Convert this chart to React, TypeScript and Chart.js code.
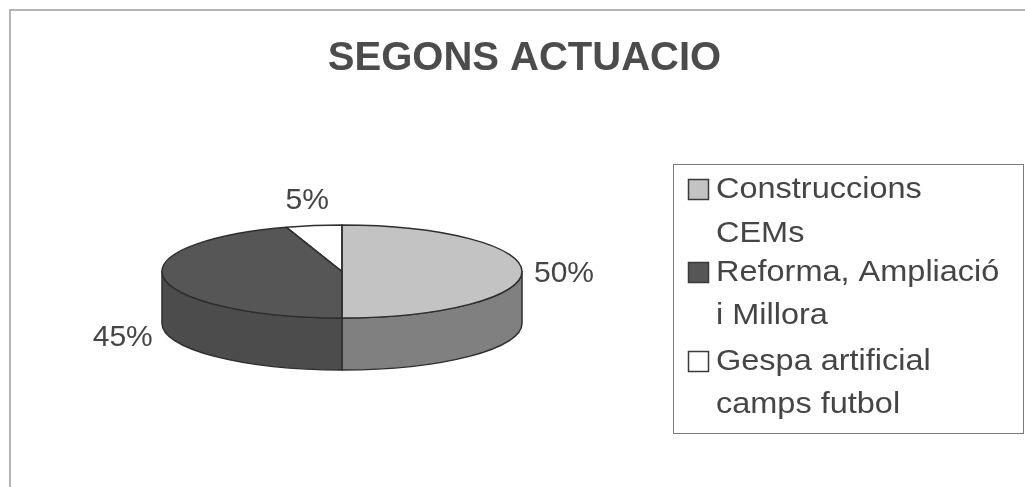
import React, { useEffect, useRef } from "react";
import { Chart, registerables } from "chart.js";

Chart.register(...registerables);

// ---- data ----
const TITLE = "SEGONS ACTUACIO";
const categories = [
  "Construccions CEMs",
  "Reforma, Ampliació i Millora",
  "Gespa artificial camps futbol",
];
const legendLines = [
  ["Construccions", "CEMs"],
  ["Reforma, Ampliació", "i Millora"],
  ["Gespa artificial", "camps futbol"],
];
const values = [50, 45, 5];

// ---- style ----
const topColors = ["#c3c3c3", "#565656", "#ffffff"];
const sideColors = ["#808080", "#4c4c4c", "#dcdcdc"];
const OUTLINE = "#2e2e2e";
const TEXT = "#454545";
const FONT = '"Liberation Sans", Arial, sans-serif';
const TILT = 46.5 / 180;
const DEPTH = 52;

const W = 1025;
const H = 487;

let tiltSaved = false;

const pie3d = {
  id: "pie3d",
  beforeDatasetsDraw(chart: any) {
    const ctx = chart.ctx as CanvasRenderingContext2D;
    const arcs = chart.getDatasetMeta(0).data;
    tiltSaved = false;
    if (!arcs.length) return;
    const p = arcs[0].getProps(["x", "y", "outerRadius"], true);
    const cx = p.x, cy = p.y, rx = p.outerRadius, ry = rx * TILT;
    // sides (front half only)
    ctx.save();
    ctx.lineWidth = 1.5;
    ctx.strokeStyle = OUTLINE;
    ctx.lineJoin = "round";
    arcs.forEach((arc: any, i: number) => {
      const { startAngle, endAngle } = arc.getProps(["startAngle", "endAngle"], true);
      for (let n = -1; n <= 1; n++) {
        const lo = Math.max(startAngle, n * 2 * Math.PI);
        const hi = Math.min(endAngle, n * 2 * Math.PI + Math.PI);
        if (hi - lo > 1e-6) {
          ctx.beginPath();
          ctx.ellipse(cx, cy, rx, ry, 0, lo, hi, false);
          ctx.ellipse(cx, cy + DEPTH, rx, ry, 0, hi, lo, true);
          ctx.closePath();
          ctx.fillStyle = sideColors[i];
          ctx.fill();
          ctx.stroke();
        }
      }
    });
    ctx.restore();
    // squash the top face drawn by Chart.js
    ctx.save();
    ctx.translate(cx, cy);
    ctx.scale(1, TILT);
    ctx.translate(-cx, -cy);
    tiltSaved = true;
  },
  afterDatasetsDraw(chart: any) {
    const ctx = chart.ctx as CanvasRenderingContext2D;
    if (!tiltSaved) return;
    ctx.restore();
    tiltSaved = false;
    const arcs = chart.getDatasetMeta(0).data;
    const p = arcs[0].getProps(["x", "y", "outerRadius"], true);
    const cx = p.x, cy = p.y, rx = p.outerRadius, ry = rx * TILT;
    ctx.save();
    ctx.lineWidth = 1.5;
    ctx.strokeStyle = OUTLINE;
    ctx.lineJoin = "round";
    arcs.forEach((arc: any) => {
      const { startAngle, endAngle } = arc.getProps(["startAngle", "endAngle"], true);
      ctx.beginPath();
      ctx.moveTo(cx, cy);
      ctx.ellipse(cx, cy, rx, ry, 0, startAngle, endAngle, false);
      ctx.closePath();
      ctx.stroke();
    });
    // data labels
    const total = values.reduce((a, b) => a + b, 0);
    ctx.fillStyle = TEXT;
    ctx.font = `30px ${FONT}`;
    ctx.textAlign = "center";
    ctx.textBaseline = "alphabetic";
    arcs.forEach((arc: any, i: number) => {
      const { startAngle, endAngle } = arc.getProps(["startAngle", "endAngle"], true);
      const m = (startAngle + endAngle) / 2;
      const s = Math.sin(m);
      const lx = cx + (rx + 42) * Math.cos(m);
      const ly = cy + (ry + 28) * s + (s > 0.05 ? DEPTH : 0);
      const txt = Math.round((values[i] / total) * 100) + "%";
      ctx.fillText(txt, lx, ly + 0.358 * 30);
    });
    ctx.restore();
  },
  afterDraw(chart: any) {
    const ctx = chart.ctx as CanvasRenderingContext2D;
    ctx.save();
    // outer chart border
    ctx.strokeStyle = "#b4b4b4";
    ctx.lineWidth = 2;
    ctx.strokeRect(10, 10, W + 20, H + 20);
    // title
    ctx.fillStyle = "#4c4c4c";
    ctx.font = `bold 40px ${FONT}`;
    ctx.textAlign = "center";
    ctx.textBaseline = "alphabetic";
    ctx.fillText(TITLE, 524.5, 70);
    // legend
    ctx.strokeStyle = "#7a7a7a";
    ctx.lineWidth = 1;
    ctx.strokeRect(673.5, 164.5, 350, 269);
    const baselines = [[198, 242], [281, 324], [370, 413]];
    ctx.font = `29px ${FONT}`;
    ctx.textAlign = "left";
    categories.forEach((_, i) => {
      const b = baselines[i];
      ctx.fillStyle = topColors[i];
      ctx.fillRect(688.5, b[0] - 18.5, 20, 20);
      ctx.strokeStyle = "#3a3a3a";
      ctx.lineWidth = 1.5;
      ctx.strokeRect(688.5, b[0] - 18.5, 20, 20);
      ctx.fillStyle = TEXT;
      legendLines[i].forEach((line, j) => {
        ctx.save();
        ctx.translate(716, b[j]);
        ctx.scale(1.12, 1);
        ctx.fillText(line, 0, 0);
        ctx.restore();
      });
    });
    ctx.restore();
  },
};

export default function App() {
  const ref = useRef<HTMLCanvasElement | null>(null);
  useEffect(() => {
    if (!ref.current) return;
    const cx = 342;
    const cy = 271.5;
    const r = 180;
    const chart = new Chart(ref.current, {
      type: "pie",
      data: {
        labels: categories,
        datasets: [
          {
            data: values,
            backgroundColor: topColors,
            borderWidth: 0,
          },
        ],
      },
      options: {
        responsive: false,
        animation: false,
        events: [],
        layout: {
          padding: {
            left: cx - r,
            right: W - (cx + r),
            top: cy - r,
            bottom: H - (cy + r),
          },
        },
        plugins: {
          legend: { display: false },
          title: { display: false },
          tooltip: { enabled: false },
        },
      },
      plugins: [pie3d],
    });
    return () => chart.destroy();
  }, []);
  return (
    <div style={{ position: "absolute", left: 0, top: 0, width: W, height: H, background: "#fff" }}>
      <canvas ref={ref} width={W} height={H} style={{ display: "block", width: W, height: H }} />
    </div>
  );
}
